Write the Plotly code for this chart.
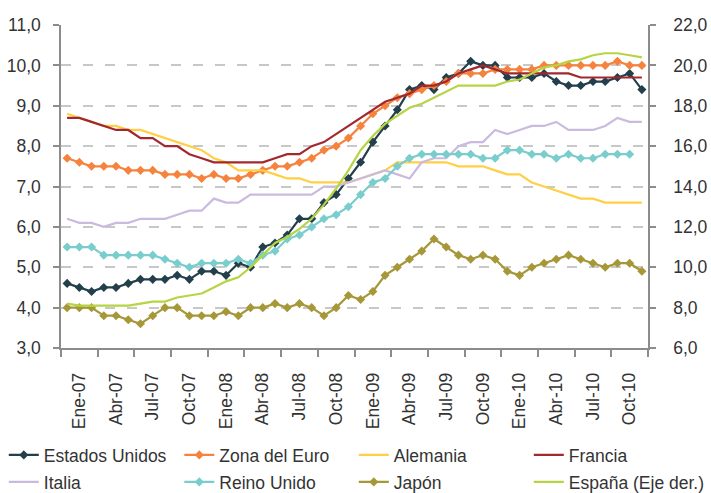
import plotly.graph_objects as go

# Monthly series, Jan-2007 .. Dec-2010
months = [f"{m}-{y}" for y in ["07", "08", "09", "10"]
          for m in ["Ene", "Feb", "Mar", "Abr", "May", "Jun", "Jul", "Ago", "Sep", "Oct", "Nov", "Dic"]]

estados_unidos = [4.6, 4.5, 4.4, 4.5, 4.5, 4.6, 4.7, 4.7, 4.7, 4.8, 4.7, 4.9,
                  4.9, 4.8, 5.1, 5.0, 5.5, 5.6, 5.8, 6.2, 6.2, 6.6, 6.8, 7.2,
                  7.6, 8.1, 8.5, 8.9, 9.4, 9.5, 9.4, 9.7, 9.8, 10.1, 10.0, 10.0,
                  9.7, 9.7, 9.7, 9.8, 9.6, 9.5, 9.5, 9.6, 9.6, 9.7, 9.8, 9.4]
zona_euro = [7.7, 7.6, 7.5, 7.5, 7.5, 7.4, 7.4, 7.4, 7.3, 7.3, 7.3, 7.2,
             7.3, 7.2, 7.2, 7.3, 7.4, 7.5, 7.5, 7.6, 7.7, 7.9, 8.0, 8.2,
             8.5, 8.8, 9.0, 9.2, 9.3, 9.4, 9.5, 9.6, 9.8, 9.8, 9.8, 9.9,
             9.9, 9.9, 9.9, 10.0, 10.0, 10.0, 10.0, 10.0, 10.0, 10.1, 10.0, 10.0]
alemania = [8.8, 8.7, 8.6, 8.5, 8.5, 8.4, 8.4, 8.3, 8.2, 8.1, 8.0, 7.9,
            7.7, 7.6, 7.4, 7.4, 7.4, 7.3, 7.2, 7.2, 7.1, 7.1, 7.1, 7.1,
            7.2, 7.3, 7.4, 7.6, 7.6, 7.6, 7.6, 7.6, 7.5, 7.5, 7.5, 7.4,
            7.3, 7.3, 7.1, 7.0, 6.9, 6.8, 6.7, 6.7, 6.6, 6.6, 6.6, 6.6]
francia = [8.7, 8.7, 8.6, 8.5, 8.4, 8.4, 8.2, 8.2, 8.0, 8.0, 7.8, 7.7,
           7.6, 7.6, 7.6, 7.6, 7.6, 7.7, 7.8, 7.8, 8.0, 8.1, 8.3, 8.5,
           8.7, 8.9, 9.1, 9.2, 9.3, 9.5, 9.5, 9.6, 9.8, 9.9, 10.0, 9.9,
           9.8, 9.8, 9.8, 9.8, 9.8, 9.8, 9.7, 9.7, 9.7, 9.7, 9.7, 9.7]
italia = [6.2, 6.1, 6.1, 6.0, 6.1, 6.1, 6.2, 6.2, 6.2, 6.3, 6.4, 6.4,
          6.7, 6.6, 6.6, 6.8, 6.8, 6.8, 6.8, 6.8, 6.8, 7.0, 7.0, 7.1,
          7.2, 7.3, 7.4, 7.3, 7.2, 7.6, 7.7, 7.7, 8.0, 8.1, 8.1, 8.4,
          8.3, 8.4, 8.5, 8.5, 8.6, 8.4, 8.4, 8.4, 8.5, 8.7, 8.6, 8.6]
reino_unido = [5.5, 5.5, 5.5, 5.3, 5.3, 5.3, 5.3, 5.3, 5.2, 5.1, 5.0, 5.1,
               5.1, 5.1, 5.2, 5.1, 5.3, 5.4, 5.7, 5.8, 6.0, 6.2, 6.3, 6.5,
               6.8, 7.1, 7.2, 7.5, 7.7, 7.8, 7.8, 7.8, 7.8, 7.8, 7.7, 7.7,
               7.9, 7.9, 7.8, 7.8, 7.7, 7.8, 7.7, 7.7, 7.8, 7.8, 7.8, None]
japon = [4.0, 4.0, 4.0, 3.8, 3.8, 3.7, 3.6, 3.8, 4.0, 4.0, 3.8, 3.8,
         3.8, 3.9, 3.8, 4.0, 4.0, 4.1, 4.0, 4.1, 4.0, 3.8, 4.0, 4.3,
         4.2, 4.4, 4.8, 5.0, 5.2, 5.4, 5.7, 5.5, 5.3, 5.2, 5.3, 5.2,
         4.9, 4.8, 5.0, 5.1, 5.2, 5.3, 5.2, 5.1, 5.0, 5.1, 5.1, 4.9]
espana = [8.2, 8.1, 8.1, 8.1, 8.1, 8.1, 8.2, 8.3, 8.3, 8.5, 8.6, 8.7,
          9.0, 9.3, 9.5, 10.0, 10.6, 11.2, 11.5, 11.9, 12.4, 13.1, 13.9, 14.8,
          15.8, 16.5, 17.1, 17.5, 17.9, 18.1, 18.4, 18.7, 19.0, 19.0, 19.0, 19.0,
          19.2, 19.3, 19.6, 19.9, 20.0, 20.2, 20.3, 20.5, 20.6, 20.6, 20.5, 20.4]

tick_labels = ["Ene-07", "Abr-07", "Jul-07", "Oct-07", "Ene-08", "Abr-08", "Jul-08", "Oct-08",
               "Ene-09", "Abr-09", "Jul-09", "Oct-09", "Ene-10", "Abr-10", "Jul-10", "Oct-10"]

x = list(range(len(months)))
FONT = "Liberation Sans, Arial, sans-serif"
FS = 17.5
TXT = "#333333"
AX = "#8c8c8c"

series = [
    ("Estados Unidos", estados_unidos, "#233f4b", True, "y"),
    ("Zona del Euro", zona_euro, "#f5833e", True, "y"),
    ("Alemania", alemania, "#ffcf45", False, "y"),
    ("Francia", francia, "#a3282d", False, "y"),
    ("Italia", italia, "#cbbadf", False, "y"),
    ("Reino Unido", reino_unido, "#79cdcc", True, "y"),
    ("Japón", japon, "#a69838", True, "y"),
    ("España (Eje der.)", espana, "#b6d443", False, "y2"),
]

# legend layout: 4 columns x 2 rows below the chart
L, R, T, B = 61, 63, 25, 145
PW = 711 - L - R
PH = 493 - T - B
col_px = [3.8, 179.3, 353.8, 528.8]
row_px = [455, 482]

fig = go.Figure()
legends = {}
for k, (name, vals, color, mk, yax) in enumerate(series):
    lname = "legend" if k == 0 else f"legend{k + 1}"
    fig.add_trace(go.Scatter(
        x=x, y=vals, name=name, yaxis=yax, legend=lname,
        mode="lines+markers" if mk else "lines",
        line=dict(color=color, width=2.2),
        marker=dict(symbol="diamond", size=7, color=color),
        connectgaps=False,
    ))
    legends[lname] = dict(
        orientation="h", xanchor="left", yanchor="middle",
        x=(col_px[k % 4] - L) / PW, y=(T + PH - row_px[k // 4]) / PH,
        font=dict(size=FS), bgcolor="rgba(0,0,0,0)", itemwidth=30,
    )

fig.update_layout(
    width=711, height=493,
    margin=dict(l=L, r=R, t=T, b=B, autoexpand=False),
    paper_bgcolor="white", plot_bgcolor="white",
    separators=",.",
    font=dict(family=FONT, size=FS, color=TXT),
    showlegend=True,
    **legends,
    xaxis=dict(
        range=[-0.5, 47.5], showgrid=False, zeroline=False, automargin=False,
        showline=True, linecolor=AX, linewidth=1.5,
        tickvals=[1 + 3 * k for k in range(len(tick_labels))], ticktext=tick_labels,
        tickangle=-90, ticks="", ticklabelstandoff=16,
        tickfont=dict(size=FS, color=TXT),
        minor=dict(tickvals=[-0.5 + 3 * k for k in range(17)], ticks="outside",
                   ticklen=7, tickwidth=1.5, tickcolor=AX, showgrid=False),
    ),
    yaxis=dict(
        range=[3, 11], dtick=1, tickformat=".1f", automargin=False,
        showgrid=True, gridcolor="#c8c8c8", gridwidth=1.5, griddash="10px,12px",
        zeroline=False, showline=True, linecolor=AX, linewidth=1.5,
        ticks="outside", ticklen=6, tickwidth=1.5, tickcolor=AX,
        ticklabelstandoff=9, tickfont=dict(size=FS, color=TXT),
    ),
    yaxis2=dict(
        range=[6, 22], dtick=2, tickformat=".1f", overlaying="y", side="right",
        automargin=False,
        showgrid=False, zeroline=False, showline=True, linecolor=AX, linewidth=1.5,
        ticks="outside", ticklen=6, tickwidth=1.5, tickcolor=AX,
        ticklabelstandoff=14, tickfont=dict(size=FS, color=TXT),
    ),
)

fig.write_html("out.html", config={"displayModeBar": False},
               post_script="document.body.style.margin='0';")
